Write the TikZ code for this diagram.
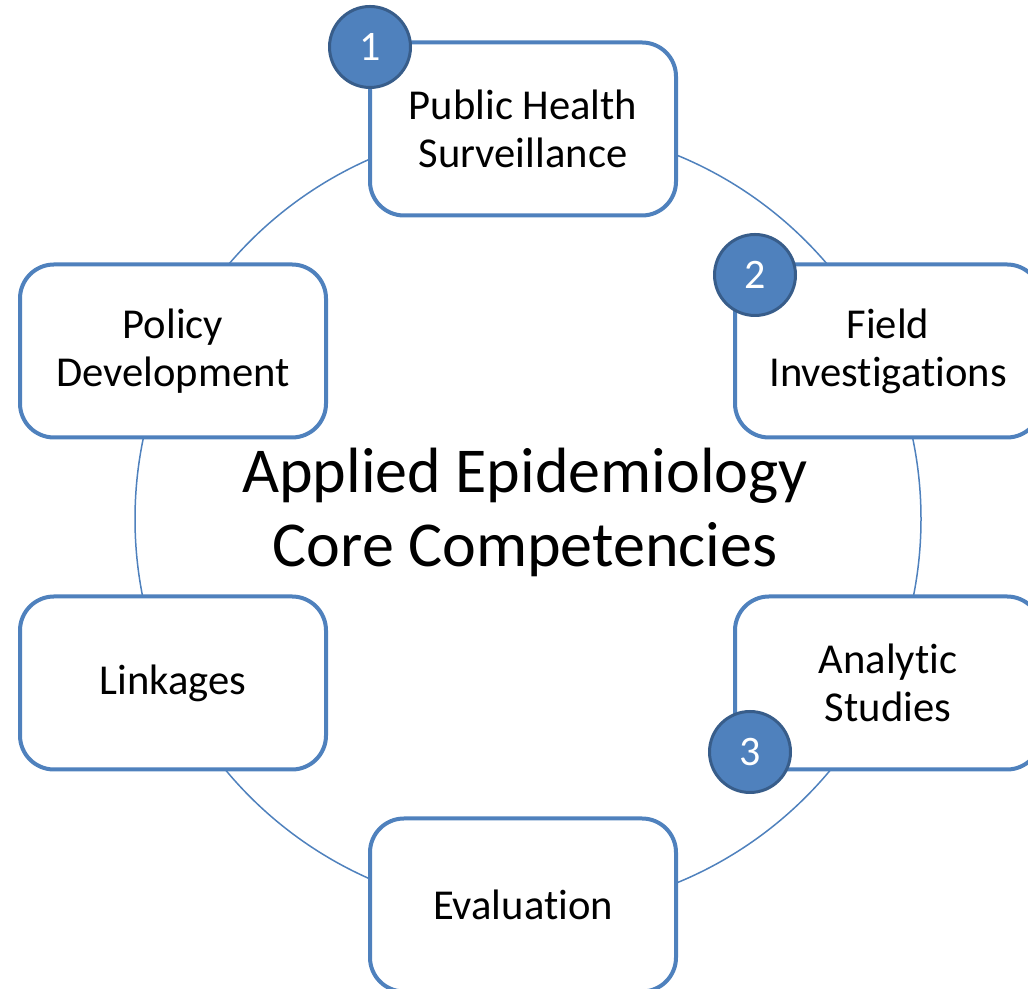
\documentclass[tikz,border=0pt]{standalone}
\usepackage{fontspec}
\setmainfont{Carlito}[Ligatures=NoCommon]
\usetikzlibrary{positioning}
\usepackage{xcolor}

\definecolor{ringblue}{RGB}{79,129,189}
\definecolor{badgeedge}{RGB}{56,93,138}

\tikzset{
  competency/.style={draw=ringblue, line width=2pt, fill=white, rounded corners=17pt,
    minimum width=153pt, minimum height=86.5pt, align=center,
    font=\fontsize{21.3}{24}\selectfont},
  badge/.style={circle, draw=badgeedge, line width=1.5pt, fill=ringblue,
    minimum size=40.5pt, inner sep=0pt, text=white,
    font=\fontsize{21}{24}\selectfont}
}

\begin{document}
\begin{tikzpicture}[x=0.5pt, y=0.5pt]
\useasboundingbox (0,0) rectangle (1028,989);

% Ring radius
\def\ringradius{196.5pt}

% Ring behind the boxes
\coordinate (C) at (528,470);
\draw[ringblue, line width=0.75pt] (C) circle (\ringradius);

% Title in the middle
\node[font=\fontsize{32}{37}\selectfont, align=center] (title) at (525,477)
  {Applied Epidemiology\\Core Competencies};

% Six competency boxes sitting on the ring
\foreach \name/\x/\y/\txt in {phs/523/860/{Public Health\\Surveillance},
    field/888/638/{Field\\Investigations}, analytic/888/306/{Analytic\\Studies},
    eval/523/84/{Evaluation}, link/173/306/{Linkages},
    policy/173/638/{Policy\\Development}} {
    \node[competency] (\name) at (\x,\y) {\txt};
}

% Numbered badges on the box corners
\foreach \i/\x/\y in {1/370/942, 2/755/714, 3/750/237} {
    \node[badge] (b\i) at (\x,\y) {\i};
}
\end{tikzpicture}
\end{document}
